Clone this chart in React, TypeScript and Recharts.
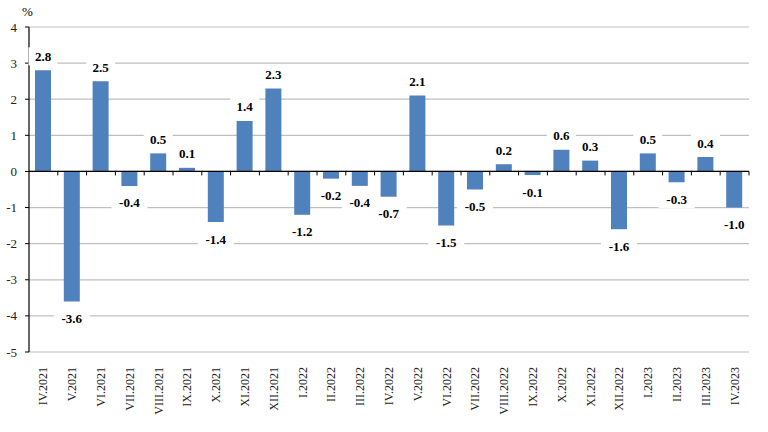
import React from "react";
import {
  BarChart,
  Bar,
  XAxis,
  YAxis,
  CartesianGrid,
  ReferenceLine,
  LabelList,
} from "recharts";

const categories = [
  "IV.2021", "V.2021", "VI.2021", "VII.2021", "VIII.2021", "IX.2021", "X.2021",
  "XI.2021", "XII.2021", "I.2022", "II.2022", "III.2022", "IV.2022", "V.2022",
  "VI.2022", "VII.2022", "VIII.2022", "IX.2022", "X.2022", "XI.2022", "XII.2022",
  "I.2023", "II.2023", "III.2023", "IV.2023",
];

const values = [
  2.8, -3.6, 2.5, -0.4, 0.5, 0.1, -1.4, 1.4, 2.3, -1.2, -0.2, -0.4, -0.7, 2.1,
  -1.5, -0.5, 0.2, -0.1, 0.6, 0.3, -1.6, 0.5, -0.3, 0.4, -1.0,
];

const yTicks = [-5, -4, -3, -2, -1, 0, 1, 2, 3, 4];

const data = categories.map((c, i) => ({ name: c, value: values[i] }));

const FONT = '"Liberation Serif", "Times New Roman", serif';

const renderLabel = (props: any) => {
  const { x, y, width, height, value } = props;
  const nx = Number(x);
  const ny = Number(y);
  const nw = Number(width);
  const nh = Number(height);
  const top = Math.min(ny, ny + nh);
  const bottom = Math.max(ny, ny + nh);
  const cx = nx + nw / 2;
  const v = Number(value);
  const ty = v >= 0 ? top - 14 : bottom + 17;
  const text = v.toFixed(1);
  const w = text.length * 7 + 8;
  return (
    <g>
      <rect x={cx - w / 2} y={ty - 9} width={w} height={18} fill="#ffffff" />
      <text
        x={cx}
        y={ty}
        textAnchor="middle"
        dominantBaseline="central"
        fontWeight="bold"
        fontSize={13}
        style={{ fontFamily: FONT }}
        fill="#000"
      >
        {text}
      </text>
    </g>
  );
};

const XTick = (props: any) => {
  const { x, y, payload } = props;
  const ax = Number(x);
  const ay = Number(y) + 7;
  return (
    <text
      x={ax}
      y={ay}
      transform={`rotate(-90, ${ax}, ${ay})`}
      textAnchor="end"
      dominantBaseline="central"
      fontSize={12}
      style={{ fontFamily: FONT }}
      fill="#222"
    >
      {payload.value}
    </text>
  );
};

const YTick = (props: any) => {
  const { x, y, payload } = props;
  return (
    <text
      x={Number(x)}
      y={Number(y)}
      textAnchor="end"
      dominantBaseline="central"
      fontSize={13}
      style={{ fontFamily: FONT }}
      fill="#222"
    >
      {payload.value}
    </text>
  );
};

const ZeroLine = (props: any) => {
  const { x1, y1, x2 } = props;
  const n = categories.length;
  const step = (x2 - x1) / n;
  const ticks = [];
  for (let i = 1; i <= n; i++) {
    const tx = x1 + i * step;
    ticks.push(
      <line key={i} x1={tx} y1={y1} x2={tx} y2={y1 + 4} stroke="#000" strokeWidth={1} />
    );
  }
  return (
    <g>
      <line x1={x1} y1={y1} x2={x2} y2={y1} stroke="#000" strokeWidth={1.2} />
      {ticks}
    </g>
  );
};

export default function App() {
  return (
    <div style={{ position: "absolute", left: 0, top: 0, width: 768, height: 432, background: "#fff" }}>
      <span
        style={{
          position: "absolute",
          left: 22,
          top: 4,
          fontFamily: FONT,
          fontSize: 13,
          color: "#000",
        }}
      >
        %
      </span>
      <BarChart
        width={768}
        height={432}
        data={data}
        margin={{ top: 27, right: 19, bottom: 0, left: 0 }}
        barSize={16}
      >
        <CartesianGrid horizontal vertical={false} stroke="#bfbfbf" strokeWidth={1.2} yAxisId="left" />
        <XAxis
          dataKey="name"
          interval={0}
          axisLine={false}
          tickLine={false}
          height={80}
          tick={<XTick />}
        />
        <YAxis
          yAxisId="left"
          domain={[-5, 4]}
          ticks={yTicks}
          interval={0}
          width={29}
          axisLine={{ stroke: "#000", strokeWidth: 1.2 }}
          tickLine={{ stroke: "#000" }}
          tickSize={4}
          tickMargin={8}
          tick={<YTick />}
        />
        <YAxis
          yAxisId="right"
          orientation="right"
          domain={[-5, 4]}
          width={0}
          tick={false}
          tickLine={false}
          axisLine={{ stroke: "#d0d0d0" }}
        />
        <Bar yAxisId="left" dataKey="value" fill="#4f81bd" isAnimationActive={false}>
          <LabelList dataKey="value" content={renderLabel} />
        </Bar>
        <ReferenceLine yAxisId="left" y={0} shape={<ZeroLine />} />
      </BarChart>
    </div>
  );
}
